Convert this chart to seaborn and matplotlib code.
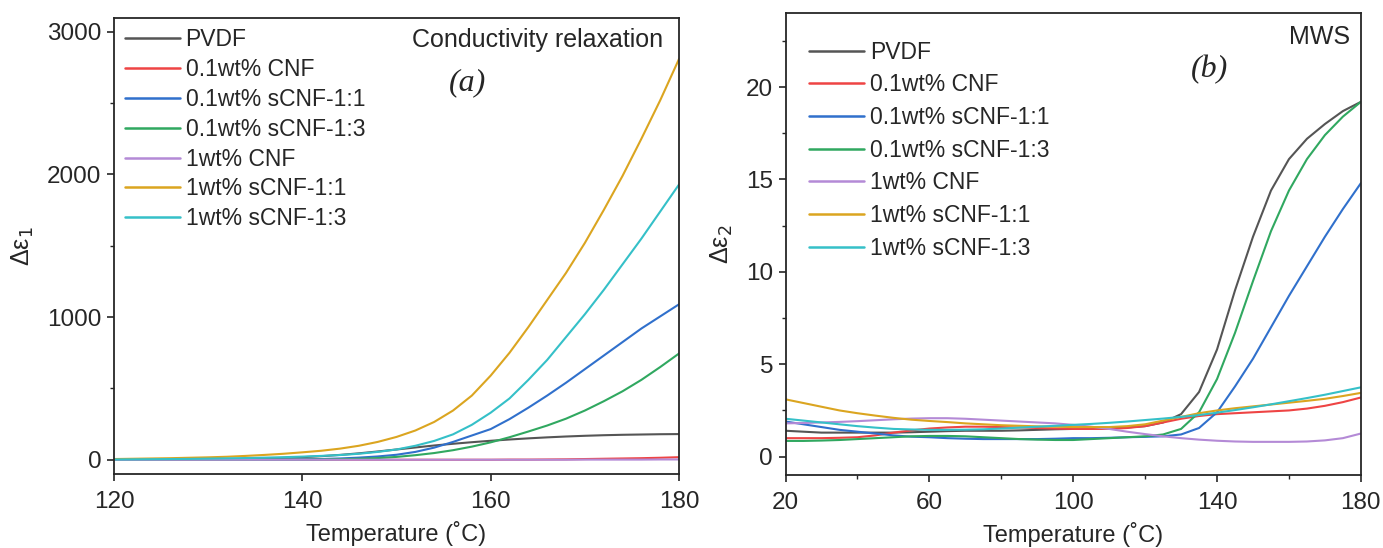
import numpy as np
import pandas as pd
import matplotlib
matplotlib.use("Agg")
import matplotlib.pyplot as plt
from matplotlib.ticker import MultipleLocator, FixedLocator
import seaborn as sns

# sample names and colours
samples = ["PVDF", "0.1wt% CNF", "0.1wt% sCNF-1:1", "0.1wt% sCNF-1:3",
           "1wt% CNF", "1wt% sCNF-1:1", "1wt% sCNF-1:3"]
colors = ["#555555", "#ee4444", "#3070cc", "#30a860", "#b48ad6", "#dba520", "#35c0c8"]

# (a) conductivity relaxation, T = 120..180 step 2
temp_a = list(range(120, 181, 2))
pvdf_a = [0, 0, 1, 1, 2, 3, 4, 6, 9, 13, 18, 25, 34, 45, 58, 72, 86, 100, 112, 123,
          133, 142, 150, 157, 163, 168, 172, 175, 177, 179, 180]
cnf01_a = [0, 0, 0, 0, 0, 0, 0, 0, 0, 0, 0, 0, 0, 0, 0, 0, 0, 0, 0, 0,
           0, 1, 1, 2, 3, 5, 7, 9, 11, 14, 18]
scnf11_01_a = [0, 0, 0, 0, 0, 0, 0, 1, 1, 2, 3, 5, 9, 15, 23, 35, 55, 85, 125, 170,
               215, 285, 365, 450, 540, 635, 730, 825, 920, 1005, 1090]
scnf13_01_a = [0, 0, 0, 0, 0, 0, 0, 0, 1, 1, 1, 2, 4, 7, 12, 20, 32, 47, 67, 92,
               122, 158, 198, 240, 288, 345, 410, 480, 560, 650, 745]
cnf1_a = [0, 0, 0, 0, 0, 0, 0, 0, 0, 0, 0, 0, 0, 0, 0, 0, 0, 0, 0, 0,
          0, 0, 0, 0, 0, 1, 1, 1, 1, 2, 2]
scnf11_1_a = [5, 7, 9, 11, 14, 17, 21, 27, 34, 42, 52, 63, 78, 98, 125, 160, 205, 265, 345, 450,
              590, 750, 930, 1120, 1310, 1520, 1750, 1990, 2250, 2520, 2810]
scnf13_1_a = [2, 3, 4, 5, 6, 8, 10, 12, 15, 18, 22, 27, 33, 42, 55, 72, 98, 132, 178, 245,
              330, 430, 560, 700, 860, 1020, 1190, 1370, 1550, 1740, 1930]

# (b) MWS, T = 20..180 step 5
temp_b = list(range(20, 181, 5))
pvdf_b = [1.4, 1.35, 1.3, 1.3, 1.3, 1.3, 1.3, 1.32, 1.35, 1.38, 1.4, 1.4, 1.4, 1.42, 1.45, 1.48,
          1.5, 1.52, 1.55, 1.58, 1.65, 1.85, 2.3, 3.5, 5.8, 9.0, 11.9, 14.4, 16.1, 17.2, 18.0, 18.7, 19.2]
cnf01_b = [1.0, 1.0, 1.0, 1.02, 1.05, 1.15, 1.3, 1.42, 1.52, 1.58, 1.62, 1.62, 1.6, 1.58, 1.55, 1.52,
           1.5, 1.5, 1.5, 1.55, 1.65, 1.85, 2.05, 2.2, 2.3, 2.35, 2.4, 2.45, 2.5, 2.6, 2.75, 2.95, 3.2]
scnf11_01_b = [1.9, 1.75, 1.6, 1.45, 1.35, 1.25, 1.15, 1.08, 1.05, 1.0, 0.97, 0.95, 0.95, 0.95, 0.95, 0.97,
               1.0, 1.0, 1.02, 1.05, 1.07, 1.1, 1.2, 1.55, 2.4, 3.8, 5.3, 7.0, 8.7, 10.3, 11.9, 13.4, 14.8]
scnf13_01_b = [0.85, 0.85, 0.87, 0.9, 0.95, 1.0, 1.05, 1.1, 1.12, 1.12, 1.1, 1.05, 1.0, 0.95, 0.92, 0.9,
               0.9, 0.95, 1.0, 1.05, 1.1, 1.2, 1.5, 2.4, 4.2, 6.7, 9.5, 12.2, 14.4, 16.1, 17.4, 18.4, 19.2]
cnf1_b = [1.8, 1.82, 1.85, 1.88, 1.92, 1.97, 2.02, 2.06, 2.08, 2.08, 2.05, 2.0, 1.95, 1.9, 1.85, 1.8,
          1.72, 1.62, 1.5, 1.35, 1.22, 1.1, 1.0, 0.92, 0.86, 0.82, 0.8, 0.8, 0.8, 0.82, 0.88, 1.0, 1.25]
scnf11_1_b = [3.1, 2.9, 2.7, 2.5, 2.35, 2.22, 2.1, 2.0, 1.93, 1.87, 1.8, 1.75, 1.7, 1.67, 1.64, 1.62,
              1.6, 1.6, 1.6, 1.65, 1.75, 1.95, 2.15, 2.35, 2.5, 2.62, 2.72, 2.82, 2.92, 3.02, 3.13, 3.28, 3.45]
scnf13_1_b = [2.05, 1.95, 1.85, 1.75, 1.65, 1.57, 1.5, 1.47, 1.45, 1.45, 1.46, 1.48, 1.52, 1.57, 1.62, 1.67,
              1.72, 1.77, 1.83, 1.9, 1.98, 2.06, 2.15, 2.25, 2.38, 2.52, 2.67, 2.83, 3.0, 3.17, 3.35, 3.55, 3.75]

series_a = [pvdf_a, cnf01_a, scnf11_01_a, scnf13_01_a, cnf1_a, scnf11_1_a, scnf13_1_a]
series_b = [pvdf_b, cnf01_b, scnf11_01_b, scnf13_01_b, cnf1_b, scnf11_1_b, scnf13_1_b]


def to_long(temp, series):
    frames = [pd.DataFrame({"T": temp, "val": s, "sample": name}) for name, s in zip(samples, series)]
    return pd.concat(frames, ignore_index=True)


df_a = to_long(temp_a, series_a)
df_b = to_long(temp_b, series_b)

sns.set_style("ticks")
plt.rcParams["font.family"] = ["Liberation Sans", "DejaVu Sans"]
plt.rcParams["axes.linewidth"] = 1.3

fig = plt.figure(figsize=(13.83, 5.48), dpi=100)
ax1 = fig.add_axes([0.0824, 0.135, 0.4086, 0.833])
ax2 = fig.add_axes([0.568, 0.133, 0.416, 0.843])

pal = dict(zip(samples, colors))
legend_opts = {ax1: dict(labelspacing=0.3, bbox_to_anchor=(0.003, 0.997)),
               ax2: dict(labelspacing=0.42, bbox_to_anchor=(0.025, 0.96))}
for ax, df in [(ax1, df_a), (ax2, df_b)]:
    sns.lineplot(data=df, x="T", y="val", hue="sample", hue_order=samples, palette=pal,
                 linewidth=1.5, ax=ax, legend=True)
    leg = ax.legend(loc="upper left", frameon=False, fontsize=16.5, handlelength=2.4,
                    handletextpad=0.25, borderaxespad=0.0, **legend_opts[ax])
    for line in leg.get_lines():
        line.set_linewidth(1.8)
    ax.tick_params(axis="both", which="major", labelsize=17.5, length=5, width=1.2, direction="out")
    ax.tick_params(axis="y", which="major", pad=4)
    ax.tick_params(axis="x", which="major", pad=7)
    ax.tick_params(axis="both", which="minor", length=3, width=1.0, direction="out")
    ax.set_xlabel("Temperature (\u02daC)", fontsize=17, labelpad=6)
    for s in ax.spines.values():
        s.set_visible(True)

ax1.set_xlim(120, 180)
ax1.set_ylim(-100, 3100)
ax1.xaxis.set_major_locator(MultipleLocator(20))
ax1.yaxis.set_major_locator(MultipleLocator(1000))
ax1.yaxis.set_minor_locator(MultipleLocator(500))
ax1.set_ylabel("\u0394\u03b5$_1$", fontsize=18, labelpad=8)
ax1.text(0.972, 0.977, "Conductivity relaxation", transform=ax1.transAxes, ha="right", va="top", fontsize=18)
ax1.text(0.626, 0.857, "(a)", transform=ax1.transAxes, ha="center", va="center", fontsize=23,
         style="italic", family="Liberation Serif")

ax2.set_xlim(20, 180)
ax2.set_ylim(-1, 24)
ax2.xaxis.set_major_locator(FixedLocator([20, 60, 100, 140, 180]))
ax2.xaxis.set_minor_locator(FixedLocator([40, 80, 120, 160]))
ax2.yaxis.set_major_locator(MultipleLocator(5))
ax2.yaxis.set_minor_locator(MultipleLocator(2.5))
ax2.set_ylabel("\u0394\u03b5$_2$", fontsize=18, labelpad=8)
ax2.text(0.981, 0.975, "MWS", transform=ax2.transAxes, ha="right", va="top", fontsize=18)
ax2.text(0.737, 0.877, "(b)", transform=ax2.transAxes, ha="center", va="center", fontsize=23,
         style="italic", family="Liberation Serif")

fig.savefig("out.png", dpi=100)
